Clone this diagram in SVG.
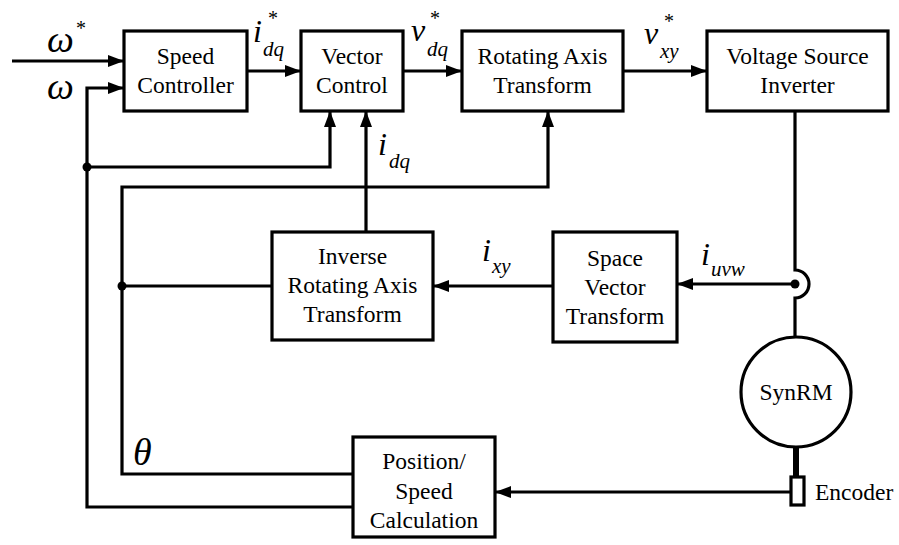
<svg xmlns="http://www.w3.org/2000/svg" width="899" height="545" viewBox="0 0 899 545" font-family="Liberation Serif, Times New Roman, serif">
  <style>
    .box { fill: #fff; stroke: #000; stroke-width: 3.2; }
    .wire { fill: none; stroke: #000; stroke-width: 3.2; }
    .lbl { font-size: 23.5px; text-anchor: middle; }
    .m { font-style: italic; }
    .big { font-size: 32px; }
    .sub { font-size: 21px; }
    .star { font-size: 20px; }
  </style>
  <defs>
    <marker id="arrow" viewBox="0 0 16 12" refX="16" refY="6" markerWidth="16" markerHeight="12" markerUnits="userSpaceOnUse" orient="auto">
      <path d="M0,0 L16,6 L0,12 z" fill="#000"/>
    </marker>
  </defs>

  <!-- connectors -->
  <g id="connectors">
    <line class="wire" x1="12" y1="61" x2="124" y2="61" marker-end="url(#arrow)"/>
    <polyline class="wire" points="353,507 87,507 87,88 124,88" marker-end="url(#arrow)"/>
    <line class="wire" x1="247" y1="71" x2="301" y2="71" marker-end="url(#arrow)"/>
    <line class="wire" x1="403" y1="71" x2="462" y2="71" marker-end="url(#arrow)"/>
    <line class="wire" x1="623" y1="71" x2="707" y2="71" marker-end="url(#arrow)"/>
    <polyline class="wire" points="87,167 330,167 330,111" marker-end="url(#arrow)"/>
    <polyline class="wire" points="353,474 122,474 122,187 548,187 548,111" marker-end="url(#arrow)"/>
    <line class="wire" x1="366" y1="232" x2="366" y2="111" marker-end="url(#arrow)"/>
    <line class="wire" x1="122" y1="286" x2="272" y2="286"/>
    <line class="wire" x1="553" y1="286" x2="433" y2="286" marker-end="url(#arrow)"/>
    <line class="wire" x1="795" y1="284" x2="677" y2="284" marker-end="url(#arrow)"/>
    <!-- motor feed with a hop over the current tap -->
    <path class="wire" d="M795,111 L795,270 A14,14 0 0 1 795,298 L795,337"/>
    <line x1="796" y1="447" x2="796" y2="478" stroke="#000" stroke-width="6"/>
    <line class="wire" x1="791" y1="492" x2="495" y2="492" marker-end="url(#arrow)"/>
    <circle cx="87" cy="167" r="4.5" fill="#000"/>
    <circle cx="122" cy="286" r="4.5" fill="#000"/>
    <circle cx="795" cy="284" r="4.5" fill="#000"/>
  </g>

  <!-- signal labels -->
  <g id="signals">
    <text class="m" x="47" y="52" font-size="38">ω</text>
    <text class="star" x="76" y="35">*</text>
    <text class="m" x="47" y="99" font-size="38">ω</text>
    <text class="m big" x="253" y="42">i</text>
    <text class="m sub" x="263" y="56">dq</text>
    <text class="star" x="268" y="25">*</text>
    <text class="m big" x="411" y="41">v</text>
    <text class="m sub" x="427" y="56">dq</text>
    <text class="star" x="430" y="25">*</text>
    <text class="m big" x="644" y="44">v</text>
    <text class="m sub" x="660" y="58">xy</text>
    <text class="star" x="664" y="28">*</text>
    <text class="m big" x="378" y="155">i</text>
    <text class="m sub" x="389" y="168">dq</text>
    <text class="m big" x="482" y="261">i</text>
    <text class="m sub" x="492" y="273">xy</text>
    <text class="m big" x="701" y="265">i</text>
    <text class="m sub" x="711" y="276">uvw</text>
    <text class="m" x="133" y="465" font-size="38">θ</text>
  </g>

  <g id="speed-controller">
    <rect class="box" x="124" y="31" width="123" height="80"/>
    <text class="lbl" x="185.5" y="64">Speed</text>
    <text class="lbl" x="185.5" y="93">Controller</text>
  </g>
  <g id="vector-control">
    <rect class="box" x="301" y="31" width="102" height="80"/>
    <text class="lbl" x="352" y="64">Vector</text>
    <text class="lbl" x="352" y="93">Control</text>
  </g>
  <g id="rotating-axis-transform">
    <rect class="box" x="462" y="31" width="161" height="80"/>
    <text class="lbl" x="542.5" y="64">Rotating Axis</text>
    <text class="lbl" x="542.5" y="93">Transform</text>
  </g>
  <g id="voltage-source-inverter">
    <rect class="box" x="707" y="31" width="181" height="80"/>
    <text class="lbl" x="797.5" y="64">Voltage Source</text>
    <text class="lbl" x="797.5" y="93">Inverter</text>
  </g>
  <g id="inverse-rotating-axis-transform">
    <rect class="box" x="272" y="232" width="161" height="108"/>
    <text class="lbl" x="352.5" y="264">Inverse</text>
    <text class="lbl" x="352.5" y="293">Rotating Axis</text>
    <text class="lbl" x="352.5" y="322">Transform</text>
  </g>
  <g id="space-vector-transform">
    <rect class="box" x="553" y="232" width="124" height="110"/>
    <text class="lbl" x="615" y="266">Space</text>
    <text class="lbl" x="615" y="295">Vector</text>
    <text class="lbl" x="615" y="324">Transform</text>
  </g>
  <g id="position-speed-calculation">
    <rect class="box" x="353" y="437" width="142" height="100"/>
    <text class="lbl" x="424" y="469">Position/</text>
    <text class="lbl" x="424" y="499">Speed</text>
    <text class="lbl" x="424" y="528">Calculation</text>
  </g>
  <g id="synrm">
    <circle class="box" cx="796" cy="392" r="55"/>
    <text class="lbl" x="796" y="400">SynRM</text>
  </g>
  <g id="encoder">
    <rect class="box" x="791" y="477" width="13" height="28"/>
    <text class="lbl" x="815" y="500" style="text-anchor:start">Encoder</text>
  </g>
</svg>
